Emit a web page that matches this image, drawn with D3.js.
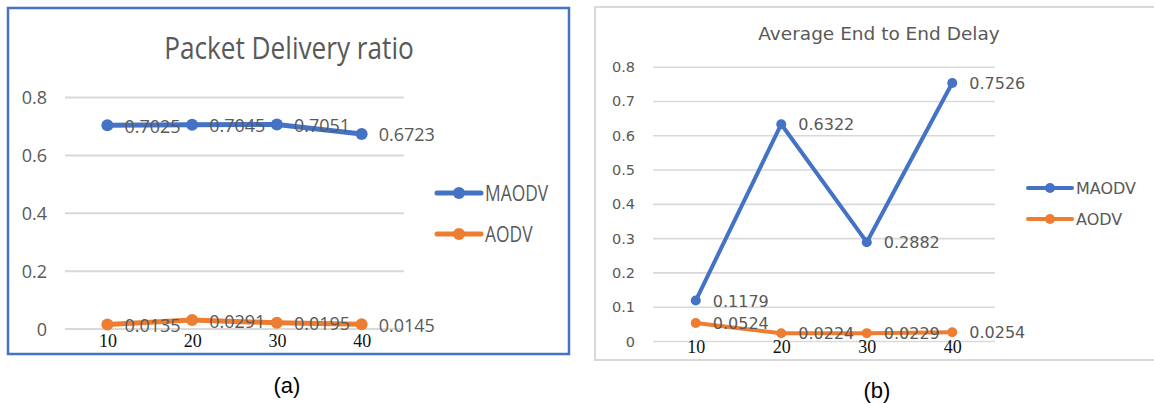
<!DOCTYPE html>
<html>
<head>
<meta charset="utf-8">
<script src="https://cdn.jsdelivr.net/npm/d3@7/dist/d3.min.js"></script>
<style>
  html, body { margin: 0; padding: 0; background: #fff; }
  svg { display: block; }
</style>
</head>
<body>
<svg id="fig" width="1154" height="404"></svg>
<script>
// Number of nodes on the x axis
const nodes = [10, 20, 30, 40];

// Packet delivery ratio
const pdrMAODV = [0.7025, 0.7045, 0.7051, 0.6723];
const pdrAODV  = [0.0135, 0.0291, 0.0195, 0.0145];

// Average end to end delay
const delayMAODV = [0.1179, 0.6322, 0.2882, 0.7526];
const delayAODV  = [0.0524, 0.0224, 0.0229, 0.0254];

// Axis ticks
const pdrTicks   = [0, 0.2, 0.4, 0.6, 0.8];
const delayTicks = [0, 0.1, 0.2, 0.3, 0.4, 0.5, 0.6, 0.7, 0.8];

const seriesNames = ["MAODV", "AODV"];
const seriesColors = ["#4472C4", "#ED7D31"];

const svg = d3.select("#fig");

function drawPanel(cfg) {
  const g = svg.append("g");

  // frame
  g.append("rect")
    .attr("x", cfg.frame[0]).attr("y", cfg.frame[1])
    .attr("width", cfg.frame[2]).attr("height", cfg.frame[3])
    .attr("fill", "none")
    .attr("stroke", cfg.frameColor)
    .attr("stroke-width", cfg.frameWidth);

  const x = d3.scaleBand().domain(nodes).range([cfg.x0, cfg.x1]);
  const cx = d => x(d) + x.bandwidth() / 2;
  const y = d3.scaleLinear().domain([0, 0.8]).range([cfg.yBottom, cfg.yTop]);

  // title (optionally stretched vertically about its baseline)
  g.append("text")
    .attr("transform", `translate(${cfg.titleX},${cfg.titleY}) scale(${cfg.titleScale[0]},${cfg.titleScale[1]})`)
    .attr("text-anchor", "middle")
    .attr("font-family", cfg.font)
    .attr("font-size", cfg.titleSize)
    .attr("fill", "#595959")
    .text(cfg.title);

  // y axis with gridlines
  const yAxis = d3.axisLeft(y)
    .tickValues(cfg.ticks)
    .tickSize(-(cfg.x1 - cfg.x0))
    .tickPadding(cfg.tickPad)
    .tickFormat(d => String(d));
  const ya = g.append("g")
    .attr("transform", `translate(${cfg.x0},0)`)
    .call(yAxis);
  ya.select(".domain").remove();
  ya.selectAll(".tick line")
    .attr("stroke", "#d9d9d9")
    .attr("stroke-width", cfg.gridWidth);
  ya.selectAll(".tick text")
    .attr("font-family", cfg.font)
    .attr("font-size", cfg.tickSize)
    .attr("fill", "#595959")
    .attr("dy", null)
    .attr("y", cfg.tickDy);

  // x axis labels
  const xAxis = d3.axisBottom(d3.scalePoint().domain(nodes).range([cx(nodes[0]), cx(nodes[nodes.length - 1])]))
    .tickSize(0).tickPadding(0);
  const xa = g.append("g")
    .attr("transform", `translate(0,${cfg.yBottom})`)
    .call(xAxis);
  xa.select(".domain").remove();
  xa.selectAll(".tick text")
    .attr("font-family", "'Liberation Serif', 'Times New Roman', serif")
    .attr("font-size", cfg.xTickSize)
    .attr("fill", "#111")
    .attr("dy", null)
    .attr("y", cfg.xLabelDy);

  // series
  const line = d3.line().x((d, i) => cx(nodes[i])).y(d => y(d));
  cfg.series.forEach((vals, si) => {
    const col = seriesColors[si];
    g.append("path")
      .attr("d", line(vals))
      .attr("fill", "none")
      .attr("stroke", col)
      .attr("stroke-width", cfg.lineWidth)
      .attr("stroke-linejoin", "round");
    g.selectAll(null).data(vals).enter().append("circle")
      .attr("cx", (d, i) => cx(nodes[i]))
      .attr("cy", d => y(d))
      .attr("r", cfg.markerR)
      .attr("fill", col);
  });

  // data labels
  cfg.series.forEach((vals) => {
    g.selectAll(null).data(vals).enter().append("text")
      .attr("x", (d, i) => cx(nodes[i]) + cfg.labelDx)
      .attr("y", d => y(d) + cfg.labelDy)
      .attr("font-family", cfg.font)
      .attr("font-size", cfg.labelSize)
      .attr("fill", "#595959")
      .text(d => String(d));
  });

  // legend
  seriesNames.forEach((name, si) => {
    const ly = cfg.legendY[si];
    g.append("line")
      .attr("x1", cfg.legendX[0]).attr("x2", cfg.legendX[1])
      .attr("y1", ly).attr("y2", ly)
      .attr("stroke", seriesColors[si])
      .attr("stroke-width", cfg.lineWidth)
      .attr("stroke-linecap", "round");
    g.append("circle")
      .attr("cx", (cfg.legendX[0] + cfg.legendX[1]) / 2)
      .attr("cy", ly)
      .attr("r", cfg.markerR)
      .attr("fill", seriesColors[si]);
    g.append("text")
      .attr("transform", `translate(${cfg.legendX[1] + cfg.legendGap},${ly + cfg.legendDy}) scale(${cfg.legendScale[0]},${cfg.legendScale[1]})`)
      .attr("font-family", cfg.font)
      .attr("font-size", cfg.legendSize)
      .attr("fill", "#595959")
      .text(name);
  });

  // caption
  svg.append("text")
    .attr("x", cfg.captionX).attr("y", cfg.captionY)
    .attr("text-anchor", "middle")
    .attr("font-family", "'Liberation Sans', Arial, sans-serif")
    .attr("font-size", 22)
    .attr("fill", "#000")
    .text(cfg.caption);
}

drawPanel({
  frame: [8, 8, 561, 346], frameColor: "#4472C4", frameWidth: 2.5,
  x0: 65, x1: 404, yBottom: 328.5, yTop: 97,
  title: "Packet Delivery ratio", titleX: 289, titleY: 59, titleSize: 27, titleScale: [0.97, 1.12],
  font: "'Open Sans', sans-serif",
  ticks: pdrTicks, tickPad: 18, tickSize: 18, tickDy: 6.5, gridWidth: 2,
  xTickSize: 18, xLabelDy: 18.5,
  series: [pdrMAODV, pdrAODV], lineWidth: 5, markerR: 6,
  labelDx: 17, labelDy: 7.5, labelSize: 18,
  legendX: [437, 481], legendY: [193, 234], legendGap: 4, legendDy: 7.5,
  legendSize: 20, legendScale: [0.87, 1.05],
  caption: "(a)", captionX: 287, captionY: 393
});

drawPanel({
  frame: [595, 7, 580, 353], frameColor: "#d9d9d9", frameWidth: 2,
  x0: 653, x1: 995, yBottom: 341, yTop: 66.7,
  title: "Average End to End Delay", titleX: 879, titleY: 40, titleSize: 18.5, titleScale: [1, 1],
  font: "'DejaVu Sans', Verdana, sans-serif",
  ticks: delayTicks, tickPad: 18, tickSize: 14.5, tickDy: 5, gridWidth: 1.6,
  xTickSize: 18, xLabelDy: 12,
  series: [delayMAODV, delayAODV], lineWidth: 4, markerR: 5,
  labelDx: 17, labelDy: 6, labelSize: 16,
  legendX: [1028, 1072], legendY: [188, 219], legendGap: 4, legendDy: 6,
  legendSize: 16, legendScale: [1, 1],
  caption: "(b)", captionX: 877, captionY: 398
});
</script>
</body>
</html>
